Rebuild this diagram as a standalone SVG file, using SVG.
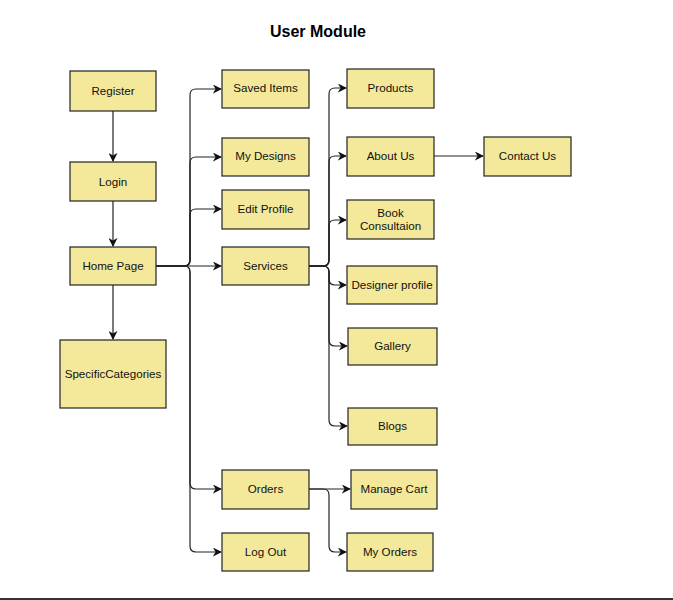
<svg xmlns="http://www.w3.org/2000/svg" width="673" height="600" viewBox="0 0 673 600">
<defs>
<style>
.n rect{fill:#F4E99B;stroke:#222;stroke-width:1.2}
.n text{font-family:"Liberation Sans",Arial,sans-serif;font-size:11.6px;fill:#111;text-anchor:middle}
#edges path{fill:none;stroke:#222;stroke-width:1.2;marker-end:url(#arr)}
.title{font-family:"Liberation Sans",Arial,sans-serif;font-size:16px;font-weight:bold;text-anchor:middle;fill:#000}
</style>
<marker id="arr" viewBox="0 0 10 10" refX="9" refY="5" markerWidth="9" markerHeight="9" markerUnits="userSpaceOnUse" orient="auto">
<path d="M0,0 L10,5 L0,10 L3,5 Z" fill="#111"/>
</marker>
</defs>
<rect width="673" height="600" fill="#fff"/>
<text class="title" x="318" y="37">User Module</text>

<g id="edges">
<path d="M113,111 V161"/>
<path d="M113,201 V246"/>
<path d="M113,285 V339"/>
<path d="M156,266 H184 Q190,266 190,260 V95 Q190,89 196,89 H221"/>
<path d="M156,266 H184 Q190,266 190,260 V163 Q190,157 196,157 H221"/>
<path d="M156,266 H184 Q190,266 190,260 V215 Q190,209 196,209 H221"/>
<path d="M156,266 H221"/>
<path d="M156,266 H184 Q190,266 190,272 V483 Q190,489 196,489 H221"/>
<path d="M156,266 H184 Q190,266 190,272 V546 Q190,552 196,552 H221"/>
<path d="M309,266 H323 Q329,266 329,260 V94 Q329,88 335,88 H346"/>
<path d="M309,266 H323 Q329,266 329,260 V162 Q329,156 335,156 H346"/>
<path d="M309,266 H323 Q329,266 329,260 V226 Q329,220 335,220 H346"/>
<path d="M309,266 H323 Q329,266 329,272 V279 Q329,285 335,285 H346"/>
<path d="M309,266 H323 Q329,266 329,272 V340 Q329,346 335,346 H347"/>
<path d="M309,266 H323 Q329,266 329,272 V420 Q329,426 335,426 H347"/>
<path d="M434,156 H483"/>
<path d="M309,489 H350"/>
<path d="M309,489 H323 Q329,489 329,495 V546 Q329,552 335,552 H346"/>
</g>

<g id="register" class="n"><rect x="70" y="71" width="86" height="40"/><text x="113" y="95">Register</text></g>
<g id="login" class="n"><rect x="70" y="162" width="86" height="39"/><text x="113" y="186">Login</text></g>
<g id="home" class="n"><rect x="70" y="247" width="86" height="38"/><text x="113" y="270">Home Page</text></g>
<g id="specific" class="n"><rect x="60" y="340" width="106" height="68"/><text x="113" y="378">SpecificCategories</text></g>

<g id="saved" class="n"><rect x="222" y="70" width="87" height="38"/><text x="265.5" y="92">Saved Items</text></g>
<g id="designs" class="n"><rect x="222" y="138" width="87" height="38"/><text x="265.5" y="160">My Designs</text></g>
<g id="editprofile" class="n"><rect x="222" y="190" width="87" height="39"/><text x="265.5" y="213">Edit Profile</text></g>
<g id="services" class="n"><rect x="222" y="247" width="87" height="38"/><text x="265.5" y="270">Services</text></g>
<g id="orders" class="n"><rect x="222" y="470" width="87" height="39"/><text x="265.5" y="493">Orders</text></g>
<g id="logout" class="n"><rect x="222" y="533" width="87" height="38"/><text x="265.5" y="556">Log Out</text></g>

<g id="products" class="n"><rect x="347" y="69" width="87" height="39"/><text x="390.5" y="92">Products</text></g>
<g id="about" class="n"><rect x="347" y="137" width="87" height="39"/><text x="390.5" y="160">About Us</text></g>
<g id="contact" class="n"><rect x="484" y="137" width="87" height="39"/><text x="527.5" y="160">Contact Us</text></g>
<g id="book" class="n"><rect x="347" y="200" width="87" height="39"/><text x="390.5" y="217">Book</text><text x="390.5" y="230">Consultaion</text></g>
<g id="designer" class="n"><rect x="347" y="266" width="90" height="38"/><text x="392" y="289">Designer profile</text></g>
<g id="gallery" class="n"><rect x="348" y="328" width="89" height="37"/><text x="392.5" y="350">Gallery</text></g>
<g id="blogs" class="n"><rect x="348" y="408" width="89" height="37"/><text x="392.5" y="430">Blogs</text></g>
<g id="cart" class="n"><rect x="351" y="470" width="86" height="39"/><text x="394" y="493">Manage Cart</text></g>
<g id="myorders" class="n"><rect x="347" y="533" width="86" height="38"/><text x="390" y="556">My Orders</text></g>

<rect x="0" y="598" width="673" height="2" fill="#333"/>
</svg>
